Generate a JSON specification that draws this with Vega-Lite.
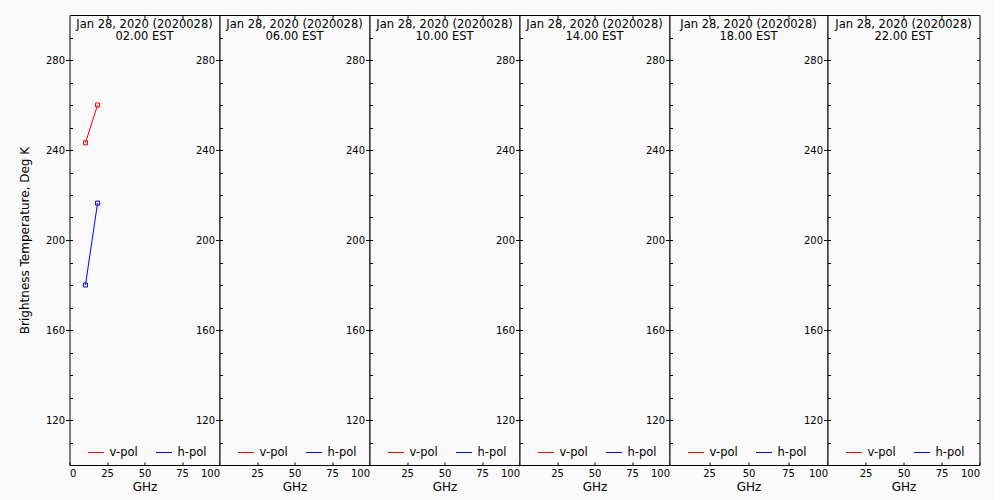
{
  "$schema": "https://vega.github.io/schema/vega-lite/v6.json",
  "background": "#fafafa",
  "padding": {"left": 17.5, "top": 14, "right": 12, "bottom": 8},
  "datasets": {
    "tb": [
      {"hour": "02.00", "pol": "v-pol", "ghz": 10.65, "tb": 243.2},
      {"hour": "02.00", "pol": "v-pol", "ghz": 18.7, "tb": 260.0},
      {"hour": "02.00", "pol": "h-pol", "ghz": 10.65, "tb": 180.0},
      {"hour": "02.00", "pol": "h-pol", "ghz": 18.7, "tb": 216.4}
    ]
  },
  "data": {"name": "tb"},
  "spacing": 0,
  "bounds": "flush",
  "config": {
    "font": "DejaVu Sans",
    "view": {"stroke": "black", "strokeWidth": 1, "fill": "#fafafa"},
    "axis": {"grid": false, "domain": false, "tickColor": "black", "labelColor": "black", "titleColor": "black", "labelFont": "DejaVu Sans", "labelFontSize": 10, "titleFont": "DejaVu Sans", "titleFontSize": 12, "titleFontWeight": "normal", "tickWidth": 1},
    "title": {"fontSize": 11.5, "fontWeight": "normal", "anchor": "middle", "frame": "group", "offset": -28, "baseline": "top", "lineHeight": 12.5, "color": "black", "font": "DejaVu Sans"},
    "legend": {"orient": "none", "legendX": 18, "legendY": 429, "direction": "horizontal", "title": null, "symbolType": "stroke", "symbolSize": 256, "symbolStrokeWidth": 1, "symbolOpacity": 1, "labelFontSize": 11.5, "labelOffset": 5, "columnPadding": 15, "labelColor": "black", "labelFont": "DejaVu Sans"}
  },
  "resolve": {"legend": {"color": "independent"}},
  "hconcat": [
    {
      "width": 150, "height": 450,
      "title": {"text": ["Jan 28, 2020 (2020028)", "02.00 EST"]},
      "transform": [{"filter": "datum.hour === '02.00'"}],
      "layer": [
        {"mark": {"type": "line", "strokeWidth": 1, "clip": true},
         "encoding": {
           "x": {"field": "ghz", "type": "quantitative", "scale": {"domain": [0, 100], "nice": false}, "axis": {"orient": "bottom", "values": [0, 25, 50, 75, 100], "tickSize": -3, "labelPadding": 6, "title": "GHz", "titlePadding": 3}},
           "y": {"field": "tb", "type": "quantitative", "scale": {"domain": [100, 300], "nice": false, "zero": false}, "axis": {"orient": "left", "values": [120, 160, 200, 240, 280], "tickSize": 4, "labelPadding": 1, "title": "Brightness Temperature, Deg K", "titlePadding": 14}},
           "color": {"field": "pol", "type": "nominal", "scale": {"domain": ["v-pol", "h-pol"], "range": ["#ff0000", "#0000ff"]}, "legend": {"encode": {"symbols": {"update": {"stroke": {"scale": "color", "field": "value"}, "strokeWidth": {"value": 1}, "opacity": {"value": 1}}}}}}
         }},
        {"mark": {"type": "point", "shape": "square", "filled": false, "size": 16, "strokeWidth": 1, "opacity": 1},
         "encoding": {
           "x": {"field": "ghz", "type": "quantitative", "scale": {"domain": [0, 100], "nice": false}, "axis": {"orient": "top", "values": [25, 50, 75], "labels": false, "tickSize": -4, "title": null}},
           "y": {"field": "tb", "type": "quantitative", "scale": {"domain": [100, 300], "nice": false, "zero": false}, "axis": {"orient": "left", "values": [110, 120, 130, 140, 150, 160, 170, 180, 190, 200, 210, 220, 230, 240, 250, 260, 270, 280, 290], "labels": false, "tickSize": -3, "title": null}},
           "color": {"field": "pol", "type": "nominal", "scale": {"domain": ["v-pol", "h-pol"], "range": ["#ff0000", "#0000ff"]}, "legend": null}
         }}
      ],
      "resolve": {"axis": {"x": "independent", "y": "independent"}}
    },
    {
      "width": 150, "height": 450,
      "title": {"text": ["Jan 28, 2020 (2020028)", "06.00 EST"]},
      "transform": [{"filter": "datum.hour === '06.00'"}],
      "layer": [
        {"mark": {"type": "line", "strokeWidth": 1, "clip": true},
         "encoding": {
           "x": {"field": "ghz", "type": "quantitative", "scale": {"domain": [0, 100], "nice": false}, "axis": {"orient": "bottom", "values": [25, 50, 75, 100], "tickSize": -3, "labelPadding": 6, "title": "GHz", "titlePadding": 3}},
           "y": {"field": "tb", "type": "quantitative", "scale": {"domain": [100, 300], "nice": false, "zero": false}, "axis": {"orient": "left", "values": [120, 160, 200, 240, 280], "tickSize": 4, "labelPadding": 1, "title": null}},
           "color": {"field": "pol", "type": "nominal", "scale": {"domain": ["v-pol", "h-pol"], "range": ["#ff0000", "#0000ff"]}, "legend": {"encode": {"symbols": {"update": {"stroke": {"scale": "color", "field": "value"}, "strokeWidth": {"value": 1}, "opacity": {"value": 1}}}}}}
         }},
        {"mark": {"type": "point", "shape": "square", "filled": false, "size": 16, "strokeWidth": 1},
         "encoding": {
           "x": {"field": "ghz", "type": "quantitative", "scale": {"domain": [0, 100], "nice": false}, "axis": {"orient": "top", "values": [25, 50, 75], "labels": false, "tickSize": -4, "title": null}},
           "y": {"field": "tb", "type": "quantitative", "scale": {"domain": [100, 300], "nice": false, "zero": false}, "axis": {"orient": "left", "values": [110, 120, 130, 140, 150, 160, 170, 180, 190, 200, 210, 220, 230, 240, 250, 260, 270, 280, 290], "labels": false, "tickSize": -3, "title": null}},
           "color": {"field": "pol", "type": "nominal", "scale": {"domain": ["v-pol", "h-pol"], "range": ["#ff0000", "#0000ff"]}, "legend": null}
         }}
      ],
      "resolve": {"axis": {"x": "independent", "y": "independent"}}
    },
    {
      "width": 150, "height": 450,
      "title": {"text": ["Jan 28, 2020 (2020028)", "10.00 EST"]},
      "transform": [{"filter": "datum.hour === '10.00'"}],
      "layer": [
        {"mark": {"type": "line", "strokeWidth": 1, "clip": true},
         "encoding": {
           "x": {"field": "ghz", "type": "quantitative", "scale": {"domain": [0, 100], "nice": false}, "axis": {"orient": "bottom", "values": [25, 50, 75, 100], "tickSize": -3, "labelPadding": 6, "title": "GHz", "titlePadding": 3}},
           "y": {"field": "tb", "type": "quantitative", "scale": {"domain": [100, 300], "nice": false, "zero": false}, "axis": {"orient": "left", "values": [120, 160, 200, 240, 280], "tickSize": 4, "labelPadding": 1, "title": null}},
           "color": {"field": "pol", "type": "nominal", "scale": {"domain": ["v-pol", "h-pol"], "range": ["#ff0000", "#0000ff"]}, "legend": {"encode": {"symbols": {"update": {"stroke": {"scale": "color", "field": "value"}, "strokeWidth": {"value": 1}, "opacity": {"value": 1}}}}}}
         }},
        {"mark": {"type": "point", "shape": "square", "filled": false, "size": 16, "strokeWidth": 1},
         "encoding": {
           "x": {"field": "ghz", "type": "quantitative", "scale": {"domain": [0, 100], "nice": false}, "axis": {"orient": "top", "values": [25, 50, 75], "labels": false, "tickSize": -4, "title": null}},
           "y": {"field": "tb", "type": "quantitative", "scale": {"domain": [100, 300], "nice": false, "zero": false}, "axis": {"orient": "left", "values": [110, 120, 130, 140, 150, 160, 170, 180, 190, 200, 210, 220, 230, 240, 250, 260, 270, 280, 290], "labels": false, "tickSize": -3, "title": null}},
           "color": {"field": "pol", "type": "nominal", "scale": {"domain": ["v-pol", "h-pol"], "range": ["#ff0000", "#0000ff"]}, "legend": null}
         }}
      ],
      "resolve": {"axis": {"x": "independent", "y": "independent"}}
    },
    {
      "width": 150, "height": 450,
      "title": {"text": ["Jan 28, 2020 (2020028)", "14.00 EST"]},
      "transform": [{"filter": "datum.hour === '14.00'"}],
      "layer": [
        {"mark": {"type": "line", "strokeWidth": 1, "clip": true},
         "encoding": {
           "x": {"field": "ghz", "type": "quantitative", "scale": {"domain": [0, 100], "nice": false}, "axis": {"orient": "bottom", "values": [25, 50, 75, 100], "tickSize": -3, "labelPadding": 6, "title": "GHz", "titlePadding": 3}},
           "y": {"field": "tb", "type": "quantitative", "scale": {"domain": [100, 300], "nice": false, "zero": false}, "axis": {"orient": "left", "values": [120, 160, 200, 240, 280], "tickSize": 4, "labelPadding": 1, "title": null}},
           "color": {"field": "pol", "type": "nominal", "scale": {"domain": ["v-pol", "h-pol"], "range": ["#ff0000", "#0000ff"]}, "legend": {"encode": {"symbols": {"update": {"stroke": {"scale": "color", "field": "value"}, "strokeWidth": {"value": 1}, "opacity": {"value": 1}}}}}}
         }},
        {"mark": {"type": "point", "shape": "square", "filled": false, "size": 16, "strokeWidth": 1},
         "encoding": {
           "x": {"field": "ghz", "type": "quantitative", "scale": {"domain": [0, 100], "nice": false}, "axis": {"orient": "top", "values": [25, 50, 75], "labels": false, "tickSize": -4, "title": null}},
           "y": {"field": "tb", "type": "quantitative", "scale": {"domain": [100, 300], "nice": false, "zero": false}, "axis": {"orient": "left", "values": [110, 120, 130, 140, 150, 160, 170, 180, 190, 200, 210, 220, 230, 240, 250, 260, 270, 280, 290], "labels": false, "tickSize": -3, "title": null}},
           "color": {"field": "pol", "type": "nominal", "scale": {"domain": ["v-pol", "h-pol"], "range": ["#ff0000", "#0000ff"]}, "legend": null}
         }}
      ],
      "resolve": {"axis": {"x": "independent", "y": "independent"}}
    },
    {
      "width": 158, "height": 450,
      "title": {"text": ["Jan 28, 2020 (2020028)", "18.00 EST"]},
      "transform": [{"filter": "datum.hour === '18.00'"}],
      "layer": [
        {"mark": {"type": "line", "strokeWidth": 1, "clip": true},
         "encoding": {
           "x": {"field": "ghz", "type": "quantitative", "scale": {"domain": [0, 100], "nice": false}, "axis": {"orient": "bottom", "values": [25, 50, 75, 100], "tickSize": -3, "labelPadding": 6, "title": "GHz", "titlePadding": 3}},
           "y": {"field": "tb", "type": "quantitative", "scale": {"domain": [100, 300], "nice": false, "zero": false}, "axis": {"orient": "left", "values": [120, 160, 200, 240, 280], "tickSize": 4, "labelPadding": 1, "title": null}},
           "color": {"field": "pol", "type": "nominal", "scale": {"domain": ["v-pol", "h-pol"], "range": ["#ff0000", "#0000ff"]}, "legend": {"encode": {"symbols": {"update": {"stroke": {"scale": "color", "field": "value"}, "strokeWidth": {"value": 1}, "opacity": {"value": 1}}}}}}
         }},
        {"mark": {"type": "point", "shape": "square", "filled": false, "size": 16, "strokeWidth": 1},
         "encoding": {
           "x": {"field": "ghz", "type": "quantitative", "scale": {"domain": [0, 100], "nice": false}, "axis": {"orient": "top", "values": [25, 50, 75], "labels": false, "tickSize": -4, "title": null}},
           "y": {"field": "tb", "type": "quantitative", "scale": {"domain": [100, 300], "nice": false, "zero": false}, "axis": {"orient": "left", "values": [110, 120, 130, 140, 150, 160, 170, 180, 190, 200, 210, 220, 230, 240, 250, 260, 270, 280, 290], "labels": false, "tickSize": -3, "title": null}},
           "color": {"field": "pol", "type": "nominal", "scale": {"domain": ["v-pol", "h-pol"], "range": ["#ff0000", "#0000ff"]}, "legend": null}
         }}
      ],
      "resolve": {"axis": {"x": "independent", "y": "independent"}}
    },
    {
      "width": 152, "height": 450,
      "title": {"text": ["Jan 28, 2020 (2020028)", "22.00 EST"]},
      "transform": [{"filter": "datum.hour === '22.00'"}],
      "layer": [
        {"mark": {"type": "line", "strokeWidth": 1, "clip": true},
         "encoding": {
           "x": {"field": "ghz", "type": "quantitative", "scale": {"domain": [0, 100], "nice": false}, "axis": {"orient": "bottom", "values": [25, 50, 75, 100], "tickSize": -3, "labelPadding": 6, "title": "GHz", "titlePadding": 3}},
           "y": {"field": "tb", "type": "quantitative", "scale": {"domain": [100, 300], "nice": false, "zero": false}, "axis": {"orient": "left", "values": [120, 160, 200, 240, 280], "tickSize": 4, "labelPadding": 1, "title": null}},
           "color": {"field": "pol", "type": "nominal", "scale": {"domain": ["v-pol", "h-pol"], "range": ["#ff0000", "#0000ff"]}, "legend": {"encode": {"symbols": {"update": {"stroke": {"scale": "color", "field": "value"}, "strokeWidth": {"value": 1}, "opacity": {"value": 1}}}}}}
         }},
        {"mark": {"type": "point", "shape": "square", "filled": false, "size": 16, "strokeWidth": 1},
         "encoding": {
           "x": {"field": "ghz", "type": "quantitative", "scale": {"domain": [0, 100], "nice": false}, "axis": {"orient": "top", "values": [25, 50, 75], "labels": false, "tickSize": -4, "title": null}},
           "y": {"field": "tb", "type": "quantitative", "scale": {"domain": [100, 300], "nice": false, "zero": false}, "axis": {"orient": "left", "values": [110, 120, 130, 140, 150, 160, 170, 180, 190, 200, 210, 220, 230, 240, 250, 260, 270, 280, 290], "labels": false, "tickSize": -3, "title": null}},
           "color": {"field": "pol", "type": "nominal", "scale": {"domain": ["v-pol", "h-pol"], "range": ["#ff0000", "#0000ff"]}, "legend": null}
         }},
        {"mark": {"type": "point", "shape": "square", "filled": false, "size": 16, "strokeWidth": 1},
         "encoding": {
           "x": {"field": "ghz", "type": "quantitative", "scale": {"domain": [0, 100], "nice": false}, "axis": null},
           "y": {"field": "tb", "type": "quantitative", "scale": {"domain": [100, 300], "nice": false, "zero": false}, "axis": {"orient": "right", "values": [110, 120, 130, 140, 150, 160, 170, 180, 190, 200, 210, 220, 230, 240, 250, 260, 270, 280, 290], "labels": false, "tickSize": -3, "title": null}},
           "color": {"field": "pol", "type": "nominal", "scale": {"domain": ["v-pol", "h-pol"], "range": ["#ff0000", "#0000ff"]}, "legend": null}
         }}
      ],
      "resolve": {"axis": {"x": "independent", "y": "independent"}}
    }
  ]
}
